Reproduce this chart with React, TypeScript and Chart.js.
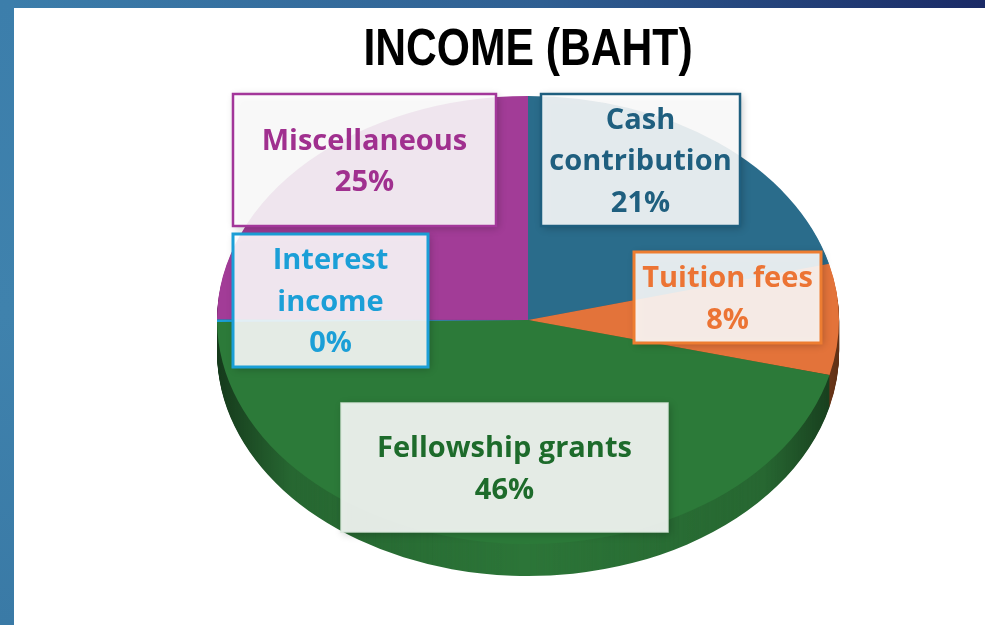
import React, { useEffect, useRef } from 'react';
import { Chart, registerables } from 'chart.js';

Chart.register(...registerables);

// ---- data ----
const categories = ['Cash contribution', 'Tuition fees', 'Fellowship grants', 'Interest income', 'Miscellaneous'];
const labelLines = [['Cash', 'contribution'], ['Tuition fees'], ['Fellowship grants'], ['Interest', 'income'], ['Miscellaneous']];
const shares = [21, 8, 46, 0.2, 25];
const titleText = 'INCOME (BAHT)';

// ---- styles ----
const topColors = ['#2a6c8b', '#e3733a', '#2c7a39', '#1b9fd7', '#a23c97'];
const sideColors = ['#215a75', '#c0602c', '#2c7538', '#1585b5', '#86307e'];
const textColors = ['#1f5f7f', '#ec7434', '#1d6b2b', '#1b9fd7', '#a0308f'];
const borderColors = ['#1f5f7f', '#ed7d31', 'rgba(215,230,217,0.9)', '#1b9fd7', '#a3379a'];
const borderWidths = [2.5, 3, 1.5, 3, 2.5];
const labelBoxes = [
  { x: 541, y: 94, w: 199, h: 132 },
  { x: 634, y: 252, w: 187, h: 91 },
  { x: 341, y: 403, w: 327, h: 129 },
  { x: 233, y: 234, w: 195, h: 133 },
  { x: 233, y: 94, w: 263, h: 132 },
];
const ELL = { cx: 528, cy: 320, rx: 311, ry: 224, depth: 32 };
const LABEL_FONT = "bold 29px 'Open Sans', 'Liberation Sans', sans-serif";
const TITLE_FONT = "bold 52px 'Liberation Sans', Arial, sans-serif";
const LINE_H = 41.5;

const pie3d = {
  id: 'pie3d',
  beforeDatasetsDraw(chart: any) {
    const meta = chart.getDatasetMeta(0);
    const arcs = meta.data;
    if (!arcs.length) return;
    const ctx = chart.ctx as CanvasRenderingContext2D;
    const a0 = arcs[0];
    const R = a0.outerRadius;
    const tf = () => {
      ctx.translate(ELL.cx, ELL.cy);
      ctx.scale(ELL.rx / R, ELL.ry / R);
      ctx.translate(-a0.x, -a0.y);
    };
    for (let i = ELL.depth; i >= 1; i--) {
      ctx.save();
      ctx.translate(0, i);
      tf();
      arcs.forEach((arc: any, k: number) => {
        ctx.beginPath();
        ctx.moveTo(arc.x, arc.y);
        ctx.arc(arc.x, arc.y, arc.outerRadius, arc.startAngle, arc.endAngle);
        ctx.closePath();
        ctx.fillStyle = sideColors[k];
        ctx.fill();
      });
      ctx.restore();
    }
    ctx.save();
    ctx.globalCompositeOperation = 'source-atop';
    const g = ctx.createLinearGradient(ELL.cx - ELL.rx, 0, ELL.cx + ELL.rx, 0);
    g.addColorStop(0, 'rgba(0,0,0,0.5)');
    g.addColorStop(0.12, 'rgba(0,0,0,0.12)');
    g.addColorStop(0.5, 'rgba(0,0,0,0)');
    g.addColorStop(0.88, 'rgba(0,0,0,0.12)');
    g.addColorStop(1, 'rgba(0,0,0,0.5)');
    ctx.fillStyle = g;
    ctx.fillRect(0, ELL.cy - 20, chart.width, chart.height);
    ctx.restore();
    ctx.save();
    tf();
  },
  afterDatasetsDraw(chart: any) {
    const ctx = chart.ctx as CanvasRenderingContext2D;
    ctx.restore();
    const values = chart.data.datasets[0].data as number[];
    const total = values.reduce((s, v) => s + v, 0);
    labelBoxes.forEach((b, k) => {
      ctx.save();
      ctx.shadowColor = 'rgba(0,0,0,0.28)';
      ctx.shadowBlur = 8;
      ctx.shadowOffsetX = 2;
      ctx.shadowOffsetY = 2;
      ctx.fillStyle = 'rgba(255,255,255,0.88)';
      ctx.fillRect(b.x, b.y, b.w, b.h);
      ctx.restore();
      ctx.save();
      ctx.lineWidth = borderWidths[k];
      ctx.strokeStyle = borderColors[k];
      ctx.strokeRect(b.x, b.y, b.w, b.h);
      const lines = [...labelLines[k], Math.round((values[k] / total) * 100) + '%'];
      ctx.font = LABEL_FONT;
      ctx.fillStyle = textColors[k];
      ctx.textAlign = 'center';
      ctx.textBaseline = 'middle';
      const cx = b.x + b.w / 2;
      const cy = b.y + b.h / 2;
      const y0 = cy - ((lines.length - 1) * LINE_H) / 2;
      lines.forEach((t, i) => ctx.fillText(t, cx, y0 + i * LINE_H + 2));
      ctx.restore();
    });
    // title (condensed)
    ctx.save();
    ctx.font = TITLE_FONT;
    ctx.fillStyle = '#000000';
    ctx.textAlign = 'center';
    ctx.textBaseline = 'alphabetic';
    ctx.translate(528, 65);
    ctx.scale(0.82, 1);
    ctx.fillText(titleText, 0, 0);
    ctx.restore();
  },
};

export default function App() {
  const ref = useRef<HTMLCanvasElement | null>(null);
  useEffect(() => {
    if (!ref.current) return;
    const chart = new Chart(ref.current, {
      type: 'pie',
      data: {
        labels: categories,
        datasets: [
          {
            data: shares,
            backgroundColor: topColors,
            borderWidth: 0,
          },
        ],
      },
      options: {
        animation: false,
        responsive: true,
        maintainAspectRatio: false,
        events: [],
        layout: { padding: { left: 71, right: 0, top: 80, bottom: 0 } },
        plugins: {
          legend: { display: false },
          tooltip: { enabled: false },
          title: { display: false, text: titleText },
        },
      },
      plugins: [pie3d],
    });
    return () => chart.destroy();
  }, []);
  return (
    <div style={{ position: 'absolute', left: 0, top: 0, width: 985, height: 625, background: '#ffffff', overflow: 'hidden' }}>
      <div style={{ position: 'absolute', left: 0, top: 0, width: 985, height: 8, background: 'linear-gradient(90deg, #3c7eab 0%, #2f5f92 55%, #1a2a66 100%)' }} />
      <div style={{ position: 'absolute', left: 0, top: 0, width: 14, height: 625, background: 'linear-gradient(180deg, #3c7eab 0%, #3f82ad 50%, #3a7aa6 100%)' }} />
      <div style={{ position: 'absolute', left: 0, top: 0, width: 985, height: 625 }}>
        <canvas ref={ref} />
      </div>
    </div>
  );
}
